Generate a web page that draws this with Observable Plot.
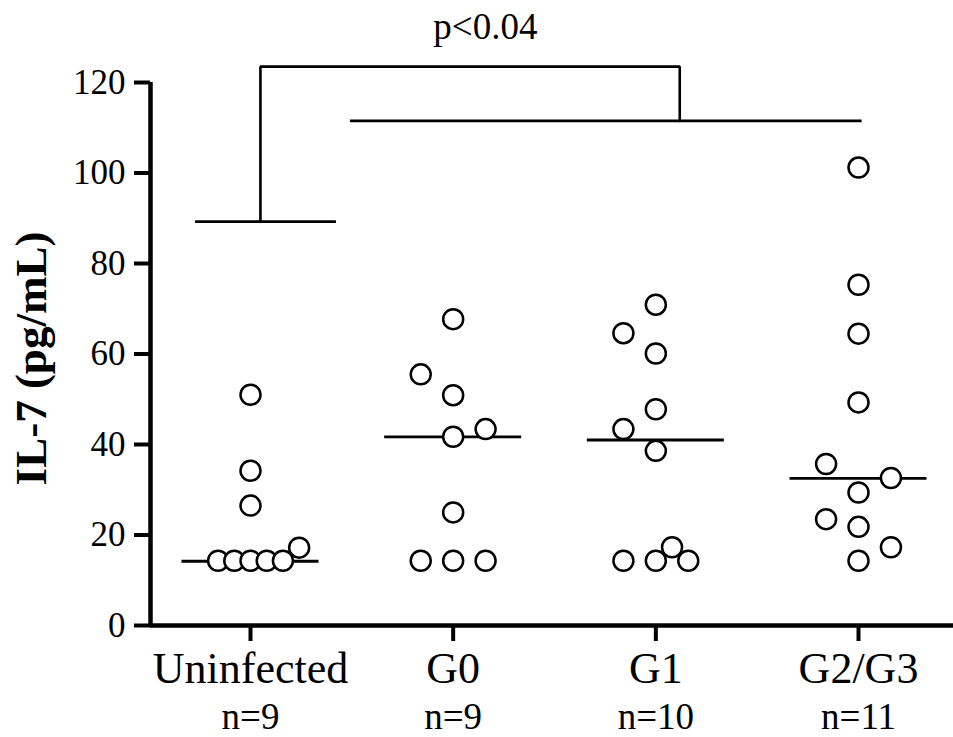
<!DOCTYPE html>
<html><head><meta charset="utf-8">
<script src="https://cdn.jsdelivr.net/npm/d3@7"></script>
<script src="https://cdn.jsdelivr.net/npm/@observablehq/plot@0.6"></script>
<style>body{margin:0;background:#fff;}</style>
</head><body><div id="chart"></div>
<script>
// Categories and labels
const categories = ["Uninfected", "G0", "G1", "G2/G3"];
const counts = ["n=9", "n=9", "n=10", "n=11"];
const yTicks = [0, 20, 40, 60, 80, 100, 120];

// Values (pg/mL)
const uninfected = [51.0, 34.2, 26.5, 14.3, 14.3, 14.3, 14.3, 14.3, 17.2];
const g0 = [67.7, 55.5, 50.9, 43.4, 41.7, 25.0, 14.3, 14.3, 14.3];
const g1 = [70.9, 64.6, 60.1, 47.8, 43.4, 38.6, 17.3, 14.3, 14.3, 14.3];
const g23 = [101.2, 75.3, 64.5, 49.3, 35.7, 32.6, 29.4, 23.5, 21.8, 17.3, 14.3];
// Scatter column of each point within its group (as laid out in the picture)
const uninfectedCol = [0, 0, 0, -2, -1, 0, 1, 2, 3];
const g0Col = [0, -2, 0, 2, 0, 0, -2, 0, 2];
const g1Col = [0, -2, 0, 0, -2, 0, 1, -2, 0, 2];
const g23Col = [0, 0, 0, 0, -2, 2, 0, -2, 0, 2, 0];
const medians = [14.2, 41.7, 41.0, 32.5];

// Significance bracket (group-index, value)
const bracketPath = [[0.049, 89.25], [0.049, 123.5], [2.118, 123.5], [2.118, 111.5]];
const bracketBars = [
  {x1: -0.271, x2: 0.424, y: 89.25},
  {x1: 0.493, x2: 3.018, y: 111.5}
];
const pLabel = "p<0.04";
const pPos = [1.159, 129.7];

const groupValues = [uninfected, g0, g1, g23];
const groupCols = [uninfectedCol, g0Col, g1Col, g23Col];
const points = [];
groupValues.forEach((vals, g) => vals.forEach((v, i) => points.push({group: g, value: v, col: groupCols[g][i]})));

const slotWidth = 0.08;
const medianHalf = 0.338;
const xDomain = [-0.4934, 3.4687];

const chart = Plot.plot({
  width: 953, height: 737,
  marginLeft: 150, marginRight: 0, marginTop: 82, marginBottom: 112,
  x: {domain: xDomain},
  y: {domain: [0, 120]},
  style: {fontFamily: "'Liberation Serif', 'Times New Roman', serif", color: "black", background: "white", overflow: "visible"},
  marks: [
    Plot.axisY({ticks: yTicks, tickSize: 16, tickPadding: 9, fontSize: 35, strokeWidth: 4, label: null}),
    Plot.axisX({ticks: [0, 1, 2, 3], tickFormat: i => categories[i], tickSize: 16, tickPadding: 10, fontSize: 44, strokeWidth: 4, label: null}),
    Plot.axisX({ticks: [0, 1, 2, 3], tickFormat: i => counts[i], tickSize: 0, tickPadding: 77.5, fontSize: 37, label: null}),
    Plot.ruleY([0], {strokeWidth: 4.5}),
    Plot.ruleX([xDomain[0]], {y1: 0, y2: 120, strokeWidth: 4.5}),
    Plot.ruleY(medians, {y: d => d, x1: (d, i) => i - medianHalf, x2: (d, i) => i + medianHalf, strokeWidth: 2.8}),
    Plot.dot(points, {x: d => d.group + d.col * slotWidth, y: "value", r: 10, stroke: "black", strokeWidth: 2.5, fill: "white"}),
    Plot.line(bracketPath, {x: d => d[0], y: d => d[1], strokeWidth: 2.6, strokeLinejoin: "miter"}),
    Plot.ruleY(bracketBars, {y: "y", x1: "x1", x2: "x2", strokeWidth: 2.8}),
    Plot.text([pLabel], {x: () => pPos[0], y: () => pPos[1], fontSize: 37, lineAnchor: "bottom"}),
    Plot.text(["IL-7 (pg/mL)"], {frameAnchor: "left", textAnchor: "middle", rotate: -90, dx: -119, dy: 4.5, fontWeight: "bold", fontSize: 45})
  ]
});
document.getElementById("chart").append(chart);
</script>
</body></html>
